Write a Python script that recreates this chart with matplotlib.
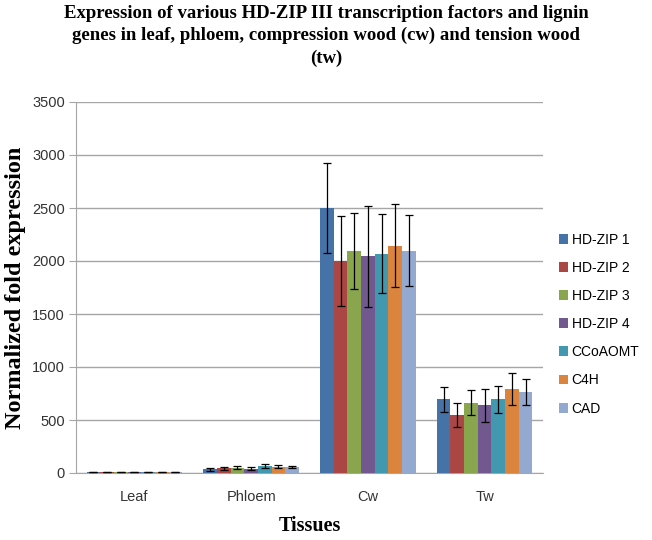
import matplotlib
matplotlib.use("Agg")
import matplotlib.pyplot as plt
import numpy as np

tissues = ["Leaf", "Phloem", "Cw", "Tw"]
series = ["HD-ZIP 1", "HD-ZIP 2", "HD-ZIP 3", "HD-ZIP 4", "CCoAOMT", "C4H", "CAD"]
values = {
    "HD-ZIP 1": [8, 35, 2500, 694],
    "HD-ZIP 2": [8, 45, 2000, 546],
    "HD-ZIP 3": [8, 51, 2095, 665],
    "HD-ZIP 4": [8, 40, 2043, 640],
    "CCoAOMT":  [8, 66, 2069, 694],
    "C4H":      [8, 60, 2144, 791],
    "CAD":      [8, 57, 2095, 766],
}
errors = {
    "HD-ZIP 1": [2, 15, 420, 120],
    "HD-ZIP 2": [2, 15, 420, 115],
    "HD-ZIP 3": [2, 15, 360, 115],
    "HD-ZIP 4": [2, 15, 480, 157],
    "CCoAOMT":  [2, 15, 370, 128],
    "C4H":      [2, 15, 390, 150],
    "CAD":      [2, 12, 335, 125],
}
colors = ["#4572A7", "#AA4643", "#89A54E", "#71588F", "#4198AF", "#DB843D", "#93A9CF"]

fig = plt.figure(figsize=(6.52, 5.40), dpi=100)
ax = fig.add_axes([76/652, 67/540, (543-76)/652, (473-102)/540])

x = np.arange(len(tissues))
n = len(series)
group_w = 0.82
bw = group_w / n
for i, s in enumerate(series):
    pos = x - group_w/2 + bw*(i+0.5)
    ax.bar(pos, values[s], width=bw, color=colors[i], label=s, zorder=3)
    ax.errorbar(pos, values[s], yerr=errors[s], fmt="none", ecolor="black",
                elinewidth=0.9, capsize=3, capthick=0.9, zorder=4)

ax.set_xlim(-0.5, len(tissues)-0.5)
ax.set_ylim(0, 3500)
ax.set_yticks(np.arange(0, 3501, 500))
ax.set_xticks(x)
ax.set_xticklabels(tissues)
ax.yaxis.grid(True, color="#A6A6A6", linewidth=1.0, zorder=0)
ax.set_axisbelow(True)
for sp in ["top", "right"]:
    ax.spines[sp].set_visible(False)
ax.spines["left"].set_color("#A6A6A6")
ax.spines["bottom"].set_color("#A6A6A6")
ax.tick_params(axis="y", length=5, color="#A6A6A6", labelsize=10.5, pad=3)
ax.tick_params(axis="x", length=0, labelsize=10.5, pad=12)
for lab in ax.get_xticklabels() + ax.get_yticklabels():
    lab.set_fontfamily("Liberation Sans")
    lab.set_color("#333333")

ax.set_ylabel("Normalized fold expression", fontfamily="Liberation Serif",
              fontweight="bold", fontsize=17.5, labelpad=4)
ax.set_xlabel("Tissues", fontfamily="Liberation Serif", fontweight="bold",
              fontsize=14.5, labelpad=9)

fig.text(0.5, 1 - 5/540,
         "Expression of various HD-ZIP III transcription factors and lignin\n"
         "genes in leaf, phloem, compression wood (cw) and tension wood\n(tw)",
         ha="center", va="top", fontfamily="Liberation Serif", fontweight="bold",
         fontsize=13.5, linespacing=1.38)

leg = fig.legend(loc="upper left", bbox_to_anchor=(553/652, 1 - 227/540),
                 frameon=False, prop={"family": "Liberation Sans", "size": 10},
                 handlelength=0.7, handleheight=0.7, handletextpad=0.25,
                 labelspacing=1.02, borderaxespad=0)

fig.savefig("out.png", dpi=100)
